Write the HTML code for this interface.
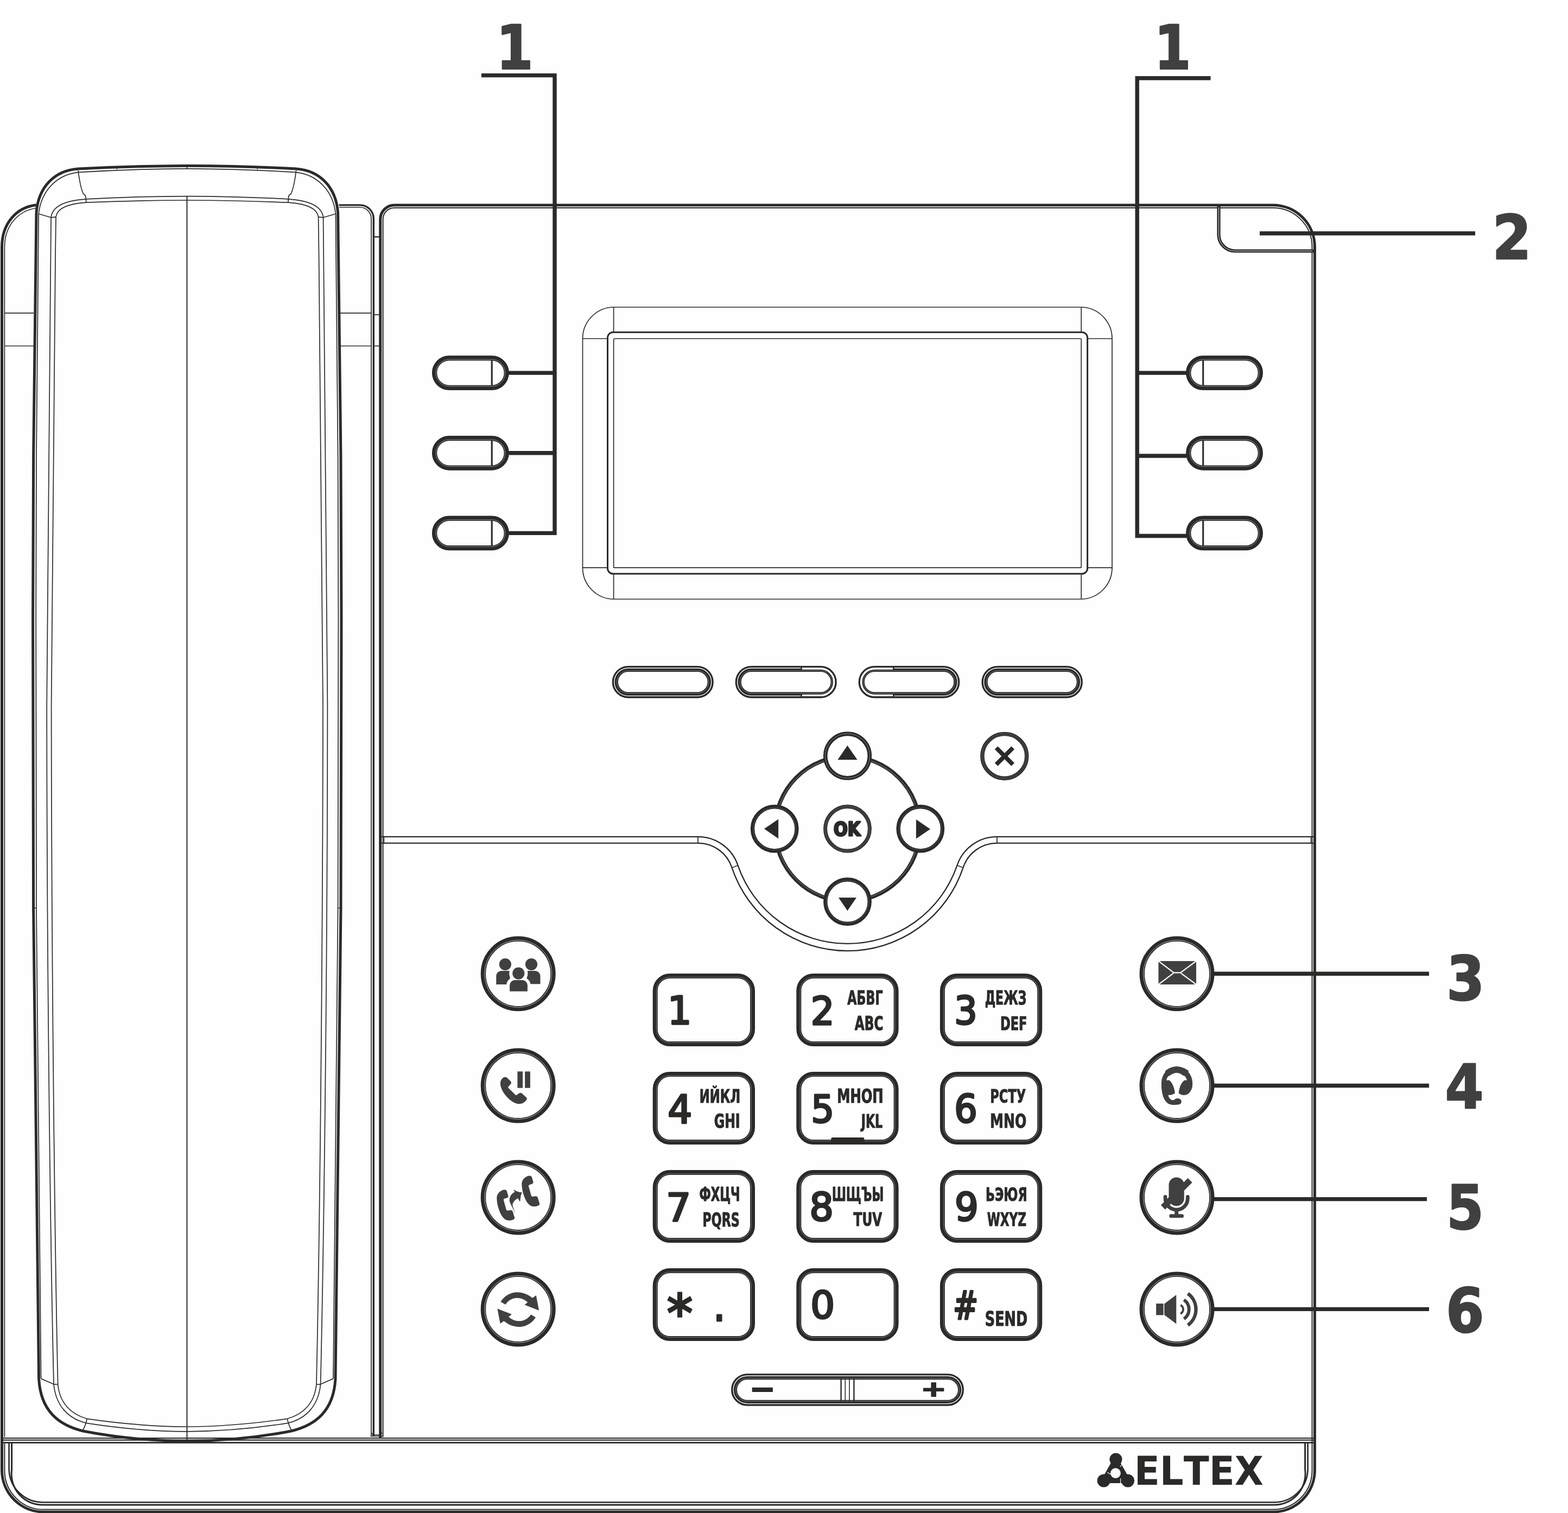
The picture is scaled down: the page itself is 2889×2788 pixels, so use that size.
<!DOCTYPE html>
<html lang="ru"><head><meta charset="utf-8"><title>IP phone front panel</title><style>html,body{margin:0;padding:0;background:#fefefe;width:2889px;height:2788px;overflow:hidden}text{font-kerning:none}</style></head>
<body>
<svg xmlns="http://www.w3.org/2000/svg" width="2889" height="2788" viewBox="0 0 2889 2788" style="display:block;position:absolute;left:0;top:0;will-change:transform"><rect x="0" y="0" width="2889" height="2788" fill="#fefefe"/>
<g fill="none" stroke-linecap="butt">
<path d="M344.8 305.4 C280 305.6 200 308 144.5 311 C100 314 70.5 345 67 392 C63 600 60.6 900 60.6 1140 C60.6 1400 61 1560 61.6 1674 C64 2000 68 2300 71.6 2541 C75 2600 108 2626 153 2637 C215 2649 285 2655.3 344.8 2655.6" fill="none" stroke="#2b2a29" stroke-width="5"/><path d="M344.8 305.4 C409.6 305.6 489.6 308 545.1 311 C589.6 314 619.1 345 622.6 392 C626.6 600 629 900 629 1140 C629 1400 628.6 1560 628 1674 C625.6 2000 621.6 2300 618 2541 C614.6 2600 581.6 2626 536.6 2637 C474.6 2649 404.6 2655.3 344.8 2655.6" fill="none" stroke="#2b2a29" stroke-width="5"/><path d="M344.8 310.8 C280 311 200 314 146 317.4 C106 321 76 350 71.2 394 C68 600 66.2 900 66.2 1140 C66.2 1400 66.4 1560 67 1674 C69 2000 72.5 2300 75.6 2540 " fill="none" stroke="#2b2a29" stroke-width="1.7"/><path d="M344.8 310.8 C409.6 311 489.6 314 543.6 317.4 C583.6 321 613.6 350 618.4 394 C621.6 600 623.4 900 623.4 1140 C623.4 1400 623.2 1560 622.6 1674 C620.6 2000 617.1 2300 614 2540 " fill="none" stroke="#2b2a29" stroke-width="1.7"/><path d="M344.8 361.6 C280 361.8 210 364 158.6 366.8 C120 369.5 96 380 94 401 C90 700 86.2 1000 86.2 1300 C86.4 1800 93 2300 99 2551 C103 2590 125 2614 159.2 2622.4 C220 2632 285 2637.6 344.8 2637.8" fill="none" stroke="#2b2a29" stroke-width="1.7"/><path d="M344.8 369 C280 369.2 210 371 158.6 373.2 C125 375.5 105 384 103 400 C99 700 94.6 1000 94.6 1300 C95 1800 101 2300 106.6 2551 C110 2585 130 2606 160.2 2614.3 C220 2623 285 2628.8 344.8 2629" fill="none" stroke="#2b2a29" stroke-width="1.7"/><path d="M344.8 361.6 C409.6 361.8 479.6 364 531 366.8 C569.6 369.5 593.6 380 595.6 401 C599.6 700 603.4 1000 603.4 1300 C603.2 1800 596.6 2300 590.6 2551 C586.6 2590 564.6 2614 530.4 2622.4 C469.6 2632 404.6 2637.6 344.8 2637.8" fill="none" stroke="#2b2a29" stroke-width="1.7"/><path d="M344.8 369 C409.6 369.2 479.6 371 531 373.2 C564.6 375.5 584.6 384 586.6 400 C590.6 700 595 1000 595 1300 C594.6 1800 588.6 2300 583 2551 C579.6 2585 559.6 2606 529.4 2614.3 C469.6 2623 404.6 2628.8 344.8 2629" fill="none" stroke="#2b2a29" stroke-width="1.7"/><path d="M71 394L94 400.8" stroke="#2b2a29" stroke-width="1.7"/><path d="M94 400.8L103 399.8" stroke="#2b2a29" stroke-width="1.7"/><path d="M144 314 C146.5 335 151 352 154 358 C157.5 358 158.6 362 158.6 373" fill="none" stroke="#2b2a29" stroke-width="1.7"/><path d="M75.6 2540.4L99 2550.8" stroke="#2b2a29" stroke-width="1.7"/><path d="M99 2550.8L106.6 2551" stroke="#2b2a29" stroke-width="1.7"/><path d="M160.2 2614.3 C159 2622 156 2629 153 2635" fill="none" stroke="#2b2a29" stroke-width="1.7"/><path d="M58.5 1143.8L62.8 1143.8" stroke="#2b2a29" stroke-width="1.2"/><path d="M59.5 1673.2L68 1673.2" stroke="#2b2a29" stroke-width="1.4"/><path d="M215.5 308L215.5 312.5" stroke="#2b2a29" stroke-width="1.2"/><path d="M618.6 394L595.6 400.8" stroke="#2b2a29" stroke-width="1.7"/><path d="M595.6 400.8L586.6 399.8" stroke="#2b2a29" stroke-width="1.7"/><path d="M545.6 314 C543.1 335 538.6 352 535.6 358 C532.1 358 531 362 531 373" fill="none" stroke="#2b2a29" stroke-width="1.7"/><path d="M614 2540.4L590.6 2550.8" stroke="#2b2a29" stroke-width="1.7"/><path d="M590.6 2550.8L583 2551" stroke="#2b2a29" stroke-width="1.7"/><path d="M529.4 2614.3 C530.6 2622 533.6 2629 536.6 2635" fill="none" stroke="#2b2a29" stroke-width="1.7"/><path d="M631.1 1143.8L626.8 1143.8" stroke="#2b2a29" stroke-width="1.2"/><path d="M630.1 1673.2L621.6 1673.2" stroke="#2b2a29" stroke-width="1.4"/><path d="M474.1 308L474.1 312.5" stroke="#2b2a29" stroke-width="1.2"/><path d="M344.5 361.5L344.5 2655.5" stroke="#2b2a29" stroke-width="2"/><path d="M344.5 303L344.5 311.5" stroke="#2b2a29" stroke-width="1.6"/>
<path d="M66.6 377.7 C30 382 3.5 412 3.5 455 V2709 A77 77 0 0 0 80.5 2786 H2345.5 A77 77 0 0 0 2422.4 2709 V455 A77 77 0 0 0 2345.5 378 H726.7 A26 26 0 0 0 700.7 404 V2650" fill="none" stroke="#2b2a29" stroke-width="5"/><path d="M67 383.5 C34 388 8.4 415 8.4 456 V2648" fill="none" stroke="#2b2a29" stroke-width="1.7"/><path d="M8.4 2660 V2709 A72 72 0 0 0 80.5 2781.6 H2345.5 A72 72 0 0 0 2417.5 2709 V455 A72 72 0 0 0 2345.5 383 H727 A21 21 0 0 0 705.6 404 V2648" fill="none" stroke="#2b2a29" stroke-width="2"/><path d="M6 2650L2420 2650" stroke="#2b2a29" stroke-width="1.9"/><path d="M6 2653.6L2420 2653.6" stroke="#2b2a29" stroke-width="2.4"/><path d="M6 2658.4L2420 2658.4" stroke="#2b2a29" stroke-width="2.9"/><path d="M16.6 2659 V2708.5 A62 62 0 0 0 80.5 2768.2 H2345.5 A62 62 0 0 0 2409.6 2708.5 V2659" fill="none" stroke="#2b2a29" stroke-width="2.6"/><path d="M21.6 2659 V2708.5 A57 57 0 0 0 80.5 2773 H2345.5 A57 57 0 0 0 2404.6 2708.5 V2659" fill="none" stroke="#2b2a29" stroke-width="3"/><path d="M8 576.8L62 576.8" stroke="#2b2a29" stroke-width="1.7"/><path d="M8 637.5L62 637.5" stroke="#2b2a29" stroke-width="1.7"/><path d="M624.5 377.9 H663 A25 25 0 0 1 688.3 403 V2646" fill="none" stroke="#2b2a29" stroke-width="3.4"/><path d="M625 382 H663 A21 21 0 0 1 684 403 V2646" fill="none" stroke="#2b2a29" stroke-width="1.7"/><path d="M627 576.8L684 576.8" stroke="#2b2a29" stroke-width="1.7"/><path d="M627 637.5L684 637.5" stroke="#2b2a29" stroke-width="1.7"/><path d="M688 580L700 580" stroke="#2b2a29" stroke-width="1.7"/><path d="M688 637.5L700 637.5" stroke="#2b2a29" stroke-width="1.7"/><path d="M688 436.5L700 436.5" stroke="#2b2a29" stroke-width="2.4"/><path d="M682.6 2646.4 H705.6 M684 2640 L687 2644 H701 L704 2640" fill="none" stroke="#2b2a29" stroke-width="1.7"/><path d="M701.4 437L701.4 2644" stroke="#2b2a29" stroke-width="1.7"/><path d="M2245.5 380 V432 A30 30 0 0 0 2275.5 462.5 H2420" fill="none" stroke="#2b2a29" stroke-width="6.2"/><path d="M2245.5 382 V432 A30 30 0 0 0 2275.5 462.5 H2418" fill="none" stroke="#d8d8d8" stroke-width="1"/><rect x="1073.5" y="566" width="975.5" height="538" rx="58" ry="58" fill="none" stroke="#2b2a29" stroke-width="1.7"/><rect x="1119.5" y="612.3" width="884.1" height="445" rx="10" ry="10" fill="none" stroke="#2b2a29" stroke-width="3"/><rect x="1130.6" y="624" width="861.6" height="422.2" rx="2" ry="2" fill="none" stroke="#2b2a29" stroke-width="1.7"/><path d="M1130.6 566L1130.6 612" stroke="#2b2a29" stroke-width="1.7"/><path d="M1992.2 566L1992.2 612" stroke="#2b2a29" stroke-width="1.7"/><path d="M1130.6 1058L1130.6 1104" stroke="#2b2a29" stroke-width="1.7"/><path d="M1992.2 1058L1992.2 1104" stroke="#2b2a29" stroke-width="1.7"/><path d="M1073.5 624L1119 624" stroke="#2b2a29" stroke-width="1.7"/><path d="M1073.5 1046.2L1119 1046.2" stroke="#2b2a29" stroke-width="1.7"/><path d="M2004 624L2049 624" stroke="#2b2a29" stroke-width="1.7"/><path d="M2004 1046.2L2049 1046.2" stroke="#2b2a29" stroke-width="1.7"/><path d="M703 1541.8 H1286 A77.6 77.6 0 0 1 1359.63 1594.91 A213.5 213.5 0 0 0 1763.37 1594.91 A77.6 77.6 0 0 1 1837 1541.8 H2420" fill="none" stroke="#2b2a29" stroke-width="2.3"/><path d="M703 1553.6 H1286 A65.8 65.8 0 0 1 1348.44 1598.63 A224.6 224.6 0 0 0 1774.56 1598.63 A65.8 65.8 0 0 1 1837 1553.6 H2420" fill="none" stroke="#2b2a29" stroke-width="2.3"/><path d="M1286 1541L1286 1554" stroke="#2b2a29" stroke-width="1.8"/><path d="M1837 1541L1837 1554" stroke="#2b2a29" stroke-width="1.8"/><path d="M1349.5 1598.4L1359.8 1594.4" stroke="#2b2a29" stroke-width="1.6"/><path d="M1773.5 1598.4L1763.2 1594.4" stroke="#2b2a29" stroke-width="1.6"/><path d="M707.5 1541L707.5 1554" stroke="#2b2a29" stroke-width="1.4"/><path d="M2415.5 1541L2415.5 1554" stroke="#2b2a29" stroke-width="1.4"/>
<rect x="800.55" y="659.85" width="132.7" height="54.5" rx="27.25" ry="27.25" fill="#fefefe" stroke="#2b2a29" stroke-width="9.3"/><rect x="803" y="662.3" width="127.8" height="49.6" rx="24.8" ry="24.8" fill="none" stroke="#8a8a8a" stroke-width="1"/><path d="M906.2 663.6L906.2 710.6" stroke="#2b2a29" stroke-width="3.1"/><rect x="2189.65" y="659.85" width="132.7" height="54.5" rx="27.25" ry="27.25" fill="#fefefe" stroke="#2b2a29" stroke-width="9.3"/><rect x="2192.1" y="662.3" width="127.8" height="49.6" rx="24.8" ry="24.8" fill="none" stroke="#8a8a8a" stroke-width="1"/><path d="M2216.7 663.6L2216.7 710.6" stroke="#2b2a29" stroke-width="3.1"/><rect x="800.55" y="807.55" width="132.7" height="54.5" rx="27.25" ry="27.25" fill="#fefefe" stroke="#2b2a29" stroke-width="9.3"/><rect x="803" y="810" width="127.8" height="49.6" rx="24.8" ry="24.8" fill="none" stroke="#8a8a8a" stroke-width="1"/><path d="M906.2 811.3L906.2 858.3" stroke="#2b2a29" stroke-width="3.1"/><rect x="2189.65" y="807.55" width="132.7" height="54.5" rx="27.25" ry="27.25" fill="#fefefe" stroke="#2b2a29" stroke-width="9.3"/><rect x="2192.1" y="810" width="127.8" height="49.6" rx="24.8" ry="24.8" fill="none" stroke="#8a8a8a" stroke-width="1"/><path d="M2216.7 811.3L2216.7 858.3" stroke="#2b2a29" stroke-width="3.1"/><rect x="800.55" y="955.15" width="132.7" height="54.5" rx="27.25" ry="27.25" fill="#fefefe" stroke="#2b2a29" stroke-width="9.3"/><rect x="803" y="957.6" width="127.8" height="49.6" rx="24.8" ry="24.8" fill="none" stroke="#8a8a8a" stroke-width="1"/><path d="M906.2 958.9L906.2 1005.9" stroke="#2b2a29" stroke-width="3.1"/><rect x="2189.65" y="955.15" width="132.7" height="54.5" rx="27.25" ry="27.25" fill="#fefefe" stroke="#2b2a29" stroke-width="9.3"/><rect x="2192.1" y="957.6" width="127.8" height="49.6" rx="24.8" ry="24.8" fill="none" stroke="#8a8a8a" stroke-width="1"/><path d="M2216.7 958.9L2216.7 1005.9" stroke="#2b2a29" stroke-width="3.1"/><rect x="1133.3" y="1232.5" width="175.9" height="48.4" rx="24.2" ry="24.2" fill="#fefefe" stroke="#2b2a29" stroke-width="11.2"/><rect x="1131.8" y="1231" width="178.9" height="51.4" rx="25.7" ry="25.7" fill="none" stroke="#fefefe" stroke-width="1.4"/><rect x="1136.6" y="1235.8" width="169.3" height="41.8" rx="20.9" ry="20.9" fill="none" stroke="#777" stroke-width="1"/><rect x="1360.2" y="1232.5" width="176" height="48.4" rx="24.2" ry="24.2" fill="#fefefe" stroke="#2b2a29" stroke-width="11.2"/><rect x="1358.7" y="1231" width="179" height="51.4" rx="25.7" ry="25.7" fill="none" stroke="#fefefe" stroke-width="1.4"/><rect x="1363.5" y="1235.8" width="169.4" height="41.8" rx="20.9" ry="20.9" fill="none" stroke="#777" stroke-width="1"/><rect x="1587.2" y="1232.5" width="175.6" height="48.4" rx="24.2" ry="24.2" fill="#fefefe" stroke="#2b2a29" stroke-width="11.2"/><rect x="1585.7" y="1231" width="178.6" height="51.4" rx="25.7" ry="25.7" fill="none" stroke="#fefefe" stroke-width="1.4"/><rect x="1590.5" y="1235.8" width="169" height="41.8" rx="20.9" ry="20.9" fill="none" stroke="#777" stroke-width="1"/><rect x="1814" y="1232.5" width="175.3" height="48.4" rx="24.2" ry="24.2" fill="#fefefe" stroke="#2b2a29" stroke-width="11.2"/><rect x="1812.5" y="1231" width="178.3" height="51.4" rx="25.7" ry="25.7" fill="none" stroke="#fefefe" stroke-width="1.4"/><rect x="1817.3" y="1235.8" width="168.7" height="41.8" rx="20.9" ry="20.9" fill="none" stroke="#777" stroke-width="1"/><path d="M1478 1232.15 H1512 A24.55 24.55 0 0 1 1512 1281.25 H1478" fill="none" stroke="#fefefe" stroke-width="3"/><path d="M1476.6 1229.9L1476.6 1234.3" stroke="#2b2a29" stroke-width="2.6"/><path d="M1476.6 1279.1L1476.6 1283.5" stroke="#2b2a29" stroke-width="2.6"/><path d="M1645 1232.15 H1611.4 A24.55 24.55 0 0 0 1611.4 1281.25 H1645" fill="none" stroke="#fefefe" stroke-width="3"/><path d="M1646.4 1229.9L1646.4 1234.3" stroke="#2b2a29" stroke-width="2.6"/><path d="M1646.4 1279.1L1646.4 1283.5" stroke="#2b2a29" stroke-width="2.6"/><circle cx="1561.5" cy="1527.2" r="133.5" fill="none" stroke="#2b2a29" stroke-width="7.4"/><circle cx="1561.5" cy="1527.2" r="132.4" fill="none" stroke="#9a9a9a" stroke-width="0.8"/><circle cx="1561.5" cy="1392.9" r="40.8" fill="#fefefe" stroke="#2b2a29" stroke-width="7.6"/><circle cx="1561.5" cy="1392.9" r="41.1" fill="none" stroke="#8c8c8c" stroke-width="0.9"/><circle cx="1427.2" cy="1527.2" r="40.7" fill="#fefefe" stroke="#2b2a29" stroke-width="7.4"/><circle cx="1427.2" cy="1527.2" r="39.2" fill="none" stroke="#5a5a5a" stroke-width="0.8"/><circle cx="1695.8" cy="1527.2" r="40.7" fill="#fefefe" stroke="#2b2a29" stroke-width="7.4"/><circle cx="1695.8" cy="1527.2" r="39.2" fill="none" stroke="#5a5a5a" stroke-width="0.8"/><circle cx="1561.5" cy="1661.5" r="40.7" fill="#fefefe" stroke="#2b2a29" stroke-width="7.4"/><circle cx="1561.5" cy="1661.5" r="39.2" fill="none" stroke="#5a5a5a" stroke-width="0.8"/><circle cx="1561.5" cy="1527.2" r="40.9" fill="#fefefe" stroke="#2b2a29" stroke-width="7"/><circle cx="1561.5" cy="1527.2" r="41.9" fill="none" stroke="#808080" stroke-width="0.7"/><circle cx="1561.5" cy="1527.2" r="39.5" fill="none" stroke="#707070" stroke-width="0.7"/><path d="M1561.4 1373.8L1579.6 1400H1543.4Z" fill="#2b2a29"/><path d="M1561.4 1678.2L1545 1654H1578Z" fill="#2b2a29"/><path d="M1408 1527.3L1434.1 1509.4V1545.3Z" fill="#2b2a29"/><path d="M1714 1527.8L1687.9 1510V1545.6Z" fill="#2b2a29"/><circle cx="1850.8" cy="1393.3" r="40.9" fill="#fefefe" stroke="#2b2a29" stroke-width="7.4"/><circle cx="1850.8" cy="1393.3" r="41.9" fill="none" stroke="#808080" stroke-width="0.7"/><circle cx="1850.8" cy="1393.3" r="39.2" fill="none" stroke="#686868" stroke-width="0.7"/><path d="M1835.6 1378L1866.2 1408.8M1866.2 1378L1835.6 1408.8" fill="none" stroke="#2b2a29" stroke-width="8"/><circle cx="954.7" cy="1794.3" r="64.3" fill="#fefefe" stroke="#2b2a29" stroke-width="9.4"/><circle cx="954.7" cy="1794.3" r="62" fill="none" stroke="#b0b0b0" stroke-width="1"/><circle cx="2168.5" cy="1794.3" r="64.3" fill="#fefefe" stroke="#2b2a29" stroke-width="9.4"/><circle cx="2168.5" cy="1794.3" r="62" fill="none" stroke="#b0b0b0" stroke-width="1"/><circle cx="954.7" cy="2000.5" r="64.3" fill="#fefefe" stroke="#2b2a29" stroke-width="9.4"/><circle cx="954.7" cy="2000.5" r="62" fill="none" stroke="#b0b0b0" stroke-width="1"/><circle cx="2168.5" cy="2000.5" r="64.3" fill="#fefefe" stroke="#2b2a29" stroke-width="9.4"/><circle cx="2168.5" cy="2000.5" r="62" fill="none" stroke="#b0b0b0" stroke-width="1"/><circle cx="954.7" cy="2206.4" r="64.3" fill="#fefefe" stroke="#2b2a29" stroke-width="9.4"/><circle cx="954.7" cy="2206.4" r="62" fill="none" stroke="#b0b0b0" stroke-width="1"/><circle cx="2168.5" cy="2206.4" r="64.3" fill="#fefefe" stroke="#2b2a29" stroke-width="9.4"/><circle cx="2168.5" cy="2206.4" r="62" fill="none" stroke="#b0b0b0" stroke-width="1"/><circle cx="954.7" cy="2412.4" r="64.3" fill="#fefefe" stroke="#2b2a29" stroke-width="9.4"/><circle cx="954.7" cy="2412.4" r="62" fill="none" stroke="#b0b0b0" stroke-width="1"/><circle cx="2168.5" cy="2412.4" r="64.3" fill="#fefefe" stroke="#2b2a29" stroke-width="9.4"/><circle cx="2168.5" cy="2412.4" r="62" fill="none" stroke="#b0b0b0" stroke-width="1"/><rect x="1207.2" y="1798.5" width="179.3" height="125" rx="27" ry="27" fill="#fefefe" stroke="#2b2a29" stroke-width="9"/><rect x="1209.5" y="1800.8" width="174.7" height="120.4" rx="24.7" ry="24.7" fill="none" stroke="#777" stroke-width="1"/><rect x="1471.8" y="1798.5" width="179.3" height="125" rx="27" ry="27" fill="#fefefe" stroke="#2b2a29" stroke-width="9"/><rect x="1474.1" y="1800.8" width="174.7" height="120.4" rx="24.7" ry="24.7" fill="none" stroke="#777" stroke-width="1"/><rect x="1736.4" y="1798.5" width="179.3" height="125" rx="27" ry="27" fill="#fefefe" stroke="#2b2a29" stroke-width="9"/><rect x="1738.7" y="1800.8" width="174.7" height="120.4" rx="24.7" ry="24.7" fill="none" stroke="#777" stroke-width="1"/><rect x="1207.2" y="1979.6" width="179.3" height="125" rx="27" ry="27" fill="#fefefe" stroke="#2b2a29" stroke-width="9"/><rect x="1209.5" y="1981.9" width="174.7" height="120.4" rx="24.7" ry="24.7" fill="none" stroke="#777" stroke-width="1"/><rect x="1471.8" y="1979.6" width="179.3" height="125" rx="27" ry="27" fill="#fefefe" stroke="#2b2a29" stroke-width="9"/><rect x="1474.1" y="1981.9" width="174.7" height="120.4" rx="24.7" ry="24.7" fill="none" stroke="#777" stroke-width="1"/><rect x="1736.4" y="1979.6" width="179.3" height="125" rx="27" ry="27" fill="#fefefe" stroke="#2b2a29" stroke-width="9"/><rect x="1738.7" y="1981.9" width="174.7" height="120.4" rx="24.7" ry="24.7" fill="none" stroke="#777" stroke-width="1"/><rect x="1207.2" y="2160.6" width="179.3" height="125" rx="27" ry="27" fill="#fefefe" stroke="#2b2a29" stroke-width="9"/><rect x="1209.5" y="2162.9" width="174.7" height="120.4" rx="24.7" ry="24.7" fill="none" stroke="#777" stroke-width="1"/><rect x="1471.8" y="2160.6" width="179.3" height="125" rx="27" ry="27" fill="#fefefe" stroke="#2b2a29" stroke-width="9"/><rect x="1474.1" y="2162.9" width="174.7" height="120.4" rx="24.7" ry="24.7" fill="none" stroke="#777" stroke-width="1"/><rect x="1736.4" y="2160.6" width="179.3" height="125" rx="27" ry="27" fill="#fefefe" stroke="#2b2a29" stroke-width="9"/><rect x="1738.7" y="2162.9" width="174.7" height="120.4" rx="24.7" ry="24.7" fill="none" stroke="#777" stroke-width="1"/><rect x="1207.2" y="2341.6" width="179.3" height="125" rx="27" ry="27" fill="#fefefe" stroke="#2b2a29" stroke-width="9"/><rect x="1209.5" y="2343.9" width="174.7" height="120.4" rx="24.7" ry="24.7" fill="none" stroke="#777" stroke-width="1"/><rect x="1471.8" y="2341.6" width="179.3" height="125" rx="27" ry="27" fill="#fefefe" stroke="#2b2a29" stroke-width="9"/><rect x="1474.1" y="2343.9" width="174.7" height="120.4" rx="24.7" ry="24.7" fill="none" stroke="#777" stroke-width="1"/><rect x="1736.4" y="2341.6" width="179.3" height="125" rx="27" ry="27" fill="#fefefe" stroke="#2b2a29" stroke-width="9"/><rect x="1738.7" y="2343.9" width="174.7" height="120.4" rx="24.7" ry="24.7" fill="none" stroke="#777" stroke-width="1"/><rect x="1531.3" y="2096" width="61" height="9" rx="2.5" fill="#2b2a29"/><rect x="1352.5" y="2536.65" width="418" height="48.5" rx="24.25" ry="24.25" fill="#fefefe" stroke="#2b2a29" stroke-width="11"/><rect x="1351.1" y="2535.25" width="420.8" height="51.3" rx="25.65" ry="25.65" fill="none" stroke="#fefefe" stroke-width="1.3"/><rect x="1355.6" y="2539.75" width="411.8" height="42.3" rx="21.15" ry="21.15" fill="none" stroke="#888" stroke-width="0.9"/><path d="M1549.6 2539.5L1549.6 2582.5" stroke="#2b2a29" stroke-width="2.4"/><path d="M1557.3 2539.5L1557.3 2582.5" stroke="#2b2a29" stroke-width="1.6"/><path d="M1565 2539.5L1565 2582.5" stroke="#2b2a29" stroke-width="1.6"/><path d="M1573.4 2539.5L1573.4 2582.5" stroke="#2b2a29" stroke-width="2.4"/>
</g>
<g transform="translate(855 1695) scale(0.1058)" fill="#404040" stroke="none"><circle cx="717" cy="775" r="105"/><circle cx="1172" cy="775" r="105"/><path d="M560 1125V978A90 90 0 0 1 650 888H800V1125Z"/><path d="M1328 1118V978A90 90 0 0 0 1238 888H1090V1118Z"/><circle cx="948" cy="932" r="162" fill="#fefefe"/><path d="M736 1300V1150A155 155 0 0 1 891 995H1007A155 155 0 0 1 1162 1150V1300Z" fill="#fefefe"/><circle cx="948" cy="932" r="105"/><path d="M795 1245V1140A90 90 0 0 1 885 1050H1015A90 90 0 0 1 1105 1140V1245Z"/></g><g transform="translate(855 1900) scale(0.1058)" fill="#404040" stroke="none"><rect x="930" y="703" width="92" height="287"/><rect x="1060" y="703" width="92" height="287"/><path d="M632 905C632 860 670 800 715 800C730 800 740 803 750 812L812 875C825 890 825 905 815 920L772 968C766 976 766 984 772 990L895 1110C903 1118 912 1118 920 1110L960 1082C975 1072 992 1072 1005 1083L1085 1155C1097 1167 1097 1185 1088 1197C1060 1235 1015 1268 960 1268C870 1268 780 1190 720 1115C665 1045 632 975 632 905Z"/></g><g transform="translate(855 2107) scale(0.1058)" fill="#404040" stroke="none"><path d="M640 830C660 815 685 805 705 805C725 805 740 815 745 830L770 915C772 930 768 940 755 945L700 965C690 970 686 978 690 990L735 1150C740 1165 750 1172 765 1170L810 1162C830 1160 842 1170 850 1190L880 1290C883 1308 875 1320 855 1327C830 1337 805 1342 780 1342C700 1342 645 1260 610 1160C585 1090 570 1020 570 950C570 895 600 855 640 830Z"/><path d="M640 830C660 815 685 805 705 805C725 805 740 815 745 830L770 915C772 930 768 940 755 945L700 965C690 970 686 978 690 990L735 1150C740 1165 750 1172 765 1170L810 1162C830 1160 842 1170 850 1190L880 1290C883 1308 875 1320 855 1327C830 1337 805 1342 780 1342C700 1342 645 1260 610 1160C585 1090 570 1020 570 950C570 895 600 855 640 830Z" transform="translate(435 -243)"/><path d="M893 1225L805 1040C780 990 790 930 830 885C850 865 870 852 885 845L858 798C900 830 950 850 1010 853C990 890 980 950 978 1005L968 1008L938 955C900 975 860 1010 845 1060C845 1075 848 1090 852 1105Z"/></g><g transform="translate(855 2313) scale(0.1058)" fill="#404040" stroke="none"><path d="M637 810C700 710 810 645 925 645C1030 645 1120 685 1190 745L1255 700L1305 962L1055 865L1108 820C1060 775 995 745 925 745C840 745 765 790 722 860Z"/><path d="M637 810C700 710 810 645 925 645C1030 645 1120 685 1190 745L1255 700L1305 962L1055 865L1108 820C1060 775 995 745 925 745C840 745 765 790 722 860Z" transform="rotate(180 942.5 946)"/></g><g transform="translate(2068 1695) scale(0.1058)" fill="#404040" stroke="none"><rect x="628" y="718" width="657" height="407"/><path d="M628 718L895 921H1012L1285 718M628 1125L888 929M1285 1125L1020 929" fill="none" stroke="#fefefe" stroke-width="21"/></g><g transform="translate(2068 1900) scale(0.1058)" fill="#404040" stroke="none"><path d="M750 690C800 650 870 615 945 615C1020 615 1095 650 1150 690L1152 718C1195 770 1220 830 1220 900C1222 960 1215 1000 1195 1030C1170 1080 1130 1115 1075 1115C1035 1115 1000 1100 980 1080C985 1030 995 990 1010 950C1030 910 1050 880 1075 860C1095 852 1110 855 1125 858C1115 825 1100 795 1080 780L1055 772C1020 745 985 727 945 727C905 727 865 745 830 772L805 782C785 800 772 825 765 858C785 855 805 852 820 858C850 885 870 920 885 955C900 995 912 1040 915 1080C890 1100 860 1112 830 1114L797 1115C805 1150 825 1180 850 1195C870 1205 890 1205 905 1195C920 1180 935 1172 955 1172C1000 1170 1028 1195 1028 1225C1028 1255 1010 1275 985 1278C950 1285 915 1286 880 1285C830 1283 785 1265 755 1225C720 1180 700 1120 690 1060C680 1000 677 950 680 900C683 830 700 775 740 722Z"/></g><g transform="translate(2068 2107) scale(0.1058)" fill="#404040" stroke="none"><rect x="808" y="590" width="267" height="500" rx="133" ry="133"/><path d="M747 930V960A195 195 0 0 0 1137 960V930" fill="none" stroke="#404040" stroke-width="64" stroke-linecap="round"/><rect x="910" y="1180" width="65" height="60"/><rect x="815" y="1230" width="253" height="65" rx="32"/><path d="M1140 605L1215 680L745 1150L670 1075Z"/></g><g transform="translate(2068 2313) scale(0.1058)" fill="#404040" stroke="none"><rect x="587" y="842" width="128" height="201"/><path d="M730 845L938 690V1195L730 1040Z"/><path d="M1012 868A84 84 0 0 1 1012 1018" fill="none" stroke="#404040" stroke-width="36"/><path d="M1072 778A199 199 0 0 1 1072 1108" fill="none" stroke="#404040" stroke-width="56"/><path d="M1140 668A340 340 0 0 1 1140 1218" fill="none" stroke="#404040" stroke-width="60"/></g><g fill="#2b2a29" stroke="#2b2a29"><path d="M2055.9 2689.1L2033.4 2728.5H2078Z" stroke-width="9" stroke-linejoin="round"/><circle cx="2055.9" cy="2689.1" r="11.6" stroke="none"/><circle cx="2033.6" cy="2728.4" r="12" stroke="none"/><circle cx="2078" cy="2728.4" r="12" stroke="none"/></g><circle cx="2055.4" cy="2714.6" r="9.4" fill="#fefefe"/><path d="M2040 2713L2047 2717" stroke="#fefefe" stroke-width="1.2"/><path d="M2064 2703L2068 2697" stroke="#fefefe" stroke-width="1.2"/><path d="M2064.5 2733L2064.5 2724" stroke="#fefefe" stroke-width="1.2"/>
<text transform="matrix(0.4908 0 0 0.5639 914.33 126.61)" font-family='"DejaVu Sans", "Liberation Sans", sans-serif' font-weight="bold" font-size="200" fill="#404040" stroke="#404040" stroke-width="2.4" stroke-linejoin="round" vector-effect="non-scaling-stroke">1</text><text transform="matrix(0.4889 0 0 0.5639 2126.47 126.61)" font-family='"DejaVu Sans", "Liberation Sans", sans-serif' font-weight="bold" font-size="200" fill="#404040" stroke="#404040" stroke-width="2.4" stroke-linejoin="round" vector-effect="non-scaling-stroke">1</text><text transform="matrix(0.5179 0 0 0.5622 2749.57 476.55)" font-family='"DejaVu Sans", "Liberation Sans", sans-serif' font-weight="bold" font-size="200" fill="#404040" stroke="#404040" stroke-width="2.4" stroke-linejoin="round" vector-effect="non-scaling-stroke">2</text><text transform="matrix(0.503 0 0 0.5607 2665.2 1841.55)" font-family='"DejaVu Sans", "Liberation Sans", sans-serif' font-weight="bold" font-size="200" fill="#404040" stroke="#404040" stroke-width="2.4" stroke-linejoin="round" vector-effect="non-scaling-stroke">3</text><text transform="matrix(0.5101 0 0 0.5649 2662.55 2041.74)" font-family='"DejaVu Sans", "Liberation Sans", sans-serif' font-weight="bold" font-size="200" fill="#404040" stroke="#404040" stroke-width="2.4" stroke-linejoin="round" vector-effect="non-scaling-stroke">4</text><text transform="matrix(0.4923 0 0 0.564 2665.34 2263.62)" font-family='"DejaVu Sans", "Liberation Sans", sans-serif' font-weight="bold" font-size="200" fill="#404040" stroke="#404040" stroke-width="2.4" stroke-linejoin="round" vector-effect="non-scaling-stroke">5</text><text transform="matrix(0.5062 0 0 0.5594 2664.07 2454.06)" font-family='"DejaVu Sans", "Liberation Sans", sans-serif' font-weight="bold" font-size="200" fill="#404040" stroke="#404040" stroke-width="2.4" stroke-linejoin="round" vector-effect="non-scaling-stroke">6</text><path d="M887 138.9H1022V986.1M937 687.1H1022M937 834.7H1022M937 982.4H1025.7" fill="none" stroke="#2b2a29" stroke-width="7.4" stroke-linejoin="miter"/><path d="M2230.5 144H2095.2V991.2M2095 687.1H2186M2095 840H2186M2091.5 987.5H2186" fill="none" stroke="#2b2a29" stroke-width="7.4" stroke-linejoin="miter"/><path d="M2321 430L2718 430" stroke="#2b2a29" stroke-width="7.4"/><path d="M2236 1794.2L2633 1794.2" stroke="#2b2a29" stroke-width="7.4"/><path d="M2236 2000.5L2633 2000.5" stroke="#2b2a29" stroke-width="7.4"/><path d="M2236 2209.6L2629 2209.6" stroke="#2b2a29" stroke-width="7.4"/><path d="M2236 2412.4L2633 2412.4" stroke="#2b2a29" stroke-width="7.4"/><text transform="matrix(0.152 0 0 0.1747 1535.88 1540.07)" font-family='"DejaVu Sans", "Liberation Sans", sans-serif' font-weight="bold" font-size="200" fill="#2b2a29" stroke="#2b2a29" stroke-width="3" stroke-linejoin="round" vector-effect="non-scaling-stroke">OK</text><text transform="matrix(0.3487 0 0 0.3573 1229.91 1887.48)" font-family='"DejaVu Sans", "Liberation Sans", sans-serif' font-weight="normal" font-size="200" fill="#2b2a29" stroke="#2b2a29" stroke-width="3.4" stroke-linejoin="round" vector-effect="non-scaling-stroke">1</text><text transform="matrix(0.3431 0 0 0.3576 1493.72 1887.66)" font-family='"DejaVu Sans", "Liberation Sans", sans-serif' font-weight="normal" font-size="200" fill="#2b2a29" stroke="#2b2a29" stroke-width="3.4" stroke-linejoin="round" vector-effect="non-scaling-stroke">2</text><text transform="matrix(0.3332 0 0 0.3517 1758.36 1887.4)" font-family='"DejaVu Sans", "Liberation Sans", sans-serif' font-weight="normal" font-size="200" fill="#2b2a29" stroke="#2b2a29" stroke-width="3.4" stroke-linejoin="round" vector-effect="non-scaling-stroke">3</text><text transform="matrix(0.3548 0 0 0.3574 1230.15 2068.59)" font-family='"DejaVu Sans", "Liberation Sans", sans-serif' font-weight="normal" font-size="200" fill="#2b2a29" stroke="#2b2a29" stroke-width="3.4" stroke-linejoin="round" vector-effect="non-scaling-stroke">4</text><text transform="matrix(0.3365 0 0 0.3499 1494.32 2068.02)" font-family='"DejaVu Sans", "Liberation Sans", sans-serif' font-weight="normal" font-size="200" fill="#2b2a29" stroke="#2b2a29" stroke-width="3.4" stroke-linejoin="round" vector-effect="non-scaling-stroke">5</text><text transform="matrix(0.3336 0 0 0.3517 1758.19 2068)" font-family='"DejaVu Sans", "Liberation Sans", sans-serif' font-weight="normal" font-size="200" fill="#2b2a29" stroke="#2b2a29" stroke-width="3.4" stroke-linejoin="round" vector-effect="non-scaling-stroke">6</text><text transform="matrix(0.3605 0 0 0.357 1227.24 2249.81)" font-family='"DejaVu Sans", "Liberation Sans", sans-serif' font-weight="normal" font-size="200" fill="#2b2a29" stroke="#2b2a29" stroke-width="3.4" stroke-linejoin="round" vector-effect="non-scaling-stroke">7</text><text transform="matrix(0.3484 0 0 0.3573 1491.6 2249.41)" font-family='"DejaVu Sans", "Liberation Sans", sans-serif' font-weight="normal" font-size="200" fill="#2b2a29" stroke="#2b2a29" stroke-width="3.4" stroke-linejoin="round" vector-effect="non-scaling-stroke">8</text><text transform="matrix(0.3446 0 0 0.3572 1758.89 2249.4)" font-family='"DejaVu Sans", "Liberation Sans", sans-serif' font-weight="normal" font-size="200" fill="#2b2a29" stroke="#2b2a29" stroke-width="3.4" stroke-linejoin="round" vector-effect="non-scaling-stroke">9</text><text transform="matrix(0.3523 0 0 0.3485 1493.13 2429.26)" font-family='"DejaVu Sans", "Liberation Sans", sans-serif' font-weight="normal" font-size="200" fill="#2b2a29" stroke="#2b2a29" stroke-width="3.4" stroke-linejoin="round" vector-effect="non-scaling-stroke">0</text><text transform="matrix(0.2759 0 0 0.3545 1756.06 2429.67)" font-family='"DejaVu Sans", "Liberation Sans", sans-serif' font-weight="normal" font-size="200" fill="#2b2a29" stroke="#2b2a29" stroke-width="3.4" stroke-linejoin="round" vector-effect="non-scaling-stroke">#</text><text transform="matrix(0.464 0 0 0.4941 1228.37 2454.2)" font-family='"DejaVu Sans", "Liberation Sans", sans-serif' font-weight="bold" font-size="200" fill="#2b2a29" stroke="#2b2a29" stroke-width="1.5" stroke-linejoin="round" vector-effect="non-scaling-stroke">*</text><text transform="matrix(0.2377 0 0 0.2951 1316.37 2434.01)" font-family='"DejaVu Sans", "Liberation Sans", sans-serif' font-weight="bold" font-size="200" fill="#2b2a29" stroke="#2b2a29" stroke-width="2.5" stroke-linejoin="round" vector-effect="non-scaling-stroke">.</text><text transform="matrix(0.1236 0 0 0.1735 1561.36 1850.87)" font-family='"DejaVu Sans Condensed", "DejaVu Sans", "Liberation Sans", sans-serif' font-weight="bold" font-stretch="condensed" font-size="200" fill="#2b2a29" stroke="#2b2a29" stroke-width="0.9" stroke-linejoin="round" vector-effect="non-scaling-stroke">АБВГ</text><text transform="matrix(0.1289 0 0 0.1737 1574.86 1898.48)" font-family='"DejaVu Sans Condensed", "DejaVu Sans", "Liberation Sans", sans-serif' font-weight="bold" font-stretch="condensed" font-size="200" fill="#2b2a29" stroke="#2b2a29" stroke-width="0.9" stroke-linejoin="round" vector-effect="non-scaling-stroke">ABC</text><text transform="matrix(0.1216 0 0 0.1735 1814.64 1850.86)" font-family='"DejaVu Sans Condensed", "DejaVu Sans", "Liberation Sans", sans-serif' font-weight="bold" font-stretch="condensed" font-size="200" fill="#2b2a29" stroke="#2b2a29" stroke-width="0.9" stroke-linejoin="round" vector-effect="non-scaling-stroke">ДЕЖЗ</text><text transform="matrix(0.1254 0 0 0.1716 1842.98 1898.17)" font-family='"DejaVu Sans Condensed", "DejaVu Sans", "Liberation Sans", sans-serif' font-weight="bold" font-stretch="condensed" font-size="200" fill="#2b2a29" stroke="#2b2a29" stroke-width="0.9" stroke-linejoin="round" vector-effect="non-scaling-stroke">DEF</text><text transform="matrix(0.1264 0 0 0.1729 1288.76 2031.87)" font-family='"DejaVu Sans Condensed", "DejaVu Sans", "Liberation Sans", sans-serif' font-weight="bold" font-stretch="condensed" font-size="200" fill="#2b2a29" stroke="#2b2a29" stroke-width="0.9" stroke-linejoin="round" vector-effect="non-scaling-stroke">ИЙКЛ</text><text transform="matrix(0.131 0 0 0.1731 1315.81 2078.38)" font-family='"DejaVu Sans Condensed", "DejaVu Sans", "Liberation Sans", sans-serif' font-weight="bold" font-stretch="condensed" font-size="200" fill="#2b2a29" stroke="#2b2a29" stroke-width="0.9" stroke-linejoin="round" vector-effect="non-scaling-stroke">GHI</text><text transform="matrix(0.1348 0 0 0.1732 1542.34 2031.89)" font-family='"DejaVu Sans Condensed", "DejaVu Sans", "Liberation Sans", sans-serif' font-weight="bold" font-stretch="condensed" font-size="200" fill="#2b2a29" stroke="#2b2a29" stroke-width="0.9" stroke-linejoin="round" vector-effect="non-scaling-stroke">МНОП</text><text transform="matrix(0.1225 0 0 0.1728 1586.8 2078.37)" font-family='"DejaVu Sans Condensed", "DejaVu Sans", "Liberation Sans", sans-serif' font-weight="bold" font-stretch="condensed" font-size="200" fill="#2b2a29" stroke="#2b2a29" stroke-width="0.9" stroke-linejoin="round" vector-effect="non-scaling-stroke">JKL</text><text transform="matrix(0.1251 0 0 0.1729 1824.28 2031.87)" font-family='"DejaVu Sans Condensed", "DejaVu Sans", "Liberation Sans", sans-serif' font-weight="bold" font-stretch="condensed" font-size="200" fill="#2b2a29" stroke="#2b2a29" stroke-width="0.9" stroke-linejoin="round" vector-effect="non-scaling-stroke">РСТУ</text><text transform="matrix(0.1391 0 0 0.1733 1824.08 2078.4)" font-family='"DejaVu Sans Condensed", "DejaVu Sans", "Liberation Sans", sans-serif' font-weight="bold" font-stretch="condensed" font-size="200" fill="#2b2a29" stroke="#2b2a29" stroke-width="0.9" stroke-linejoin="round" vector-effect="non-scaling-stroke">MNO</text><text transform="matrix(0.1191 0 0 0.1741 1288.4 2212.56)" font-family='"DejaVu Sans Condensed", "DejaVu Sans", "Liberation Sans", sans-serif' font-weight="bold" font-stretch="condensed" font-size="200" fill="#2b2a29" stroke="#2b2a29" stroke-width="0.9" stroke-linejoin="round" vector-effect="non-scaling-stroke">ФХЦЧ</text><text transform="matrix(0.1232 0 0 0.1735 1294.61 2259.87)" font-family='"DejaVu Sans Condensed", "DejaVu Sans", "Liberation Sans", sans-serif' font-weight="bold" font-stretch="condensed" font-size="200" fill="#2b2a29" stroke="#2b2a29" stroke-width="0.9" stroke-linejoin="round" vector-effect="non-scaling-stroke">PQRS</text><text transform="matrix(0.1164 0 0 0.174 1533.11 2212.55)" font-family='"DejaVu Sans Condensed", "DejaVu Sans", "Liberation Sans", sans-serif' font-weight="bold" font-stretch="condensed" font-size="200" fill="#2b2a29" stroke="#2b2a29" stroke-width="0.9" stroke-linejoin="round" vector-effect="non-scaling-stroke">ШЩЪЫ</text><text transform="matrix(0.1289 0 0 0.1723 1572.56 2259.28)" font-family='"DejaVu Sans Condensed", "DejaVu Sans", "Liberation Sans", sans-serif' font-weight="bold" font-stretch="condensed" font-size="200" fill="#2b2a29" stroke="#2b2a29" stroke-width="0.9" stroke-linejoin="round" vector-effect="non-scaling-stroke">TUV</text><text transform="matrix(0.124 0 0 0.1729 1816 2212.57)" font-family='"DejaVu Sans Condensed", "DejaVu Sans", "Liberation Sans", sans-serif' font-weight="bold" font-stretch="condensed" font-size="200" fill="#2b2a29" stroke="#2b2a29" stroke-width="0.9" stroke-linejoin="round" vector-effect="non-scaling-stroke">ЬЭЮЯ</text><text transform="matrix(0.121 0 0 0.1721 1818.65 2259.26)" font-family='"DejaVu Sans Condensed", "DejaVu Sans", "Liberation Sans", sans-serif' font-weight="bold" font-stretch="condensed" font-size="200" fill="#2b2a29" stroke="#2b2a29" stroke-width="0.9" stroke-linejoin="round" vector-effect="non-scaling-stroke">WXYZ</text><text transform="matrix(0.1419 0 0 0.1861 1814.75 2443.28)" font-family='"DejaVu Sans Condensed", "DejaVu Sans", "Liberation Sans", sans-serif' font-weight="bold" font-stretch="condensed" font-size="200" fill="#2b2a29" stroke="#2b2a29" stroke-width="0.9" stroke-linejoin="round" vector-effect="non-scaling-stroke">SEND</text><text transform="matrix(0.3056 0 0 0.3522 1378.98 2582.86)" font-family='"DejaVu Sans", "Liberation Sans", sans-serif' font-weight="bold" font-size="200" fill="#2b2a29">−</text><text transform="matrix(0.2828 0 0 0.1924 1696.44 2572.93)" font-family='"DejaVu Sans", "Liberation Sans", sans-serif' font-weight="bold" font-size="200" fill="#2b2a29" stroke="#2b2a29" stroke-width="2.6" stroke-linejoin="round" vector-effect="non-scaling-stroke" stroke-linejoin="miter">+</text><text transform="matrix(0.3443 0 0 0.3685 2089.8 2736.3)" font-family='"DejaVu Sans", "Liberation Sans", sans-serif' font-weight="bold" font-size="200" fill="#2b2a29">ELTEX</text></svg>
</body></html>
